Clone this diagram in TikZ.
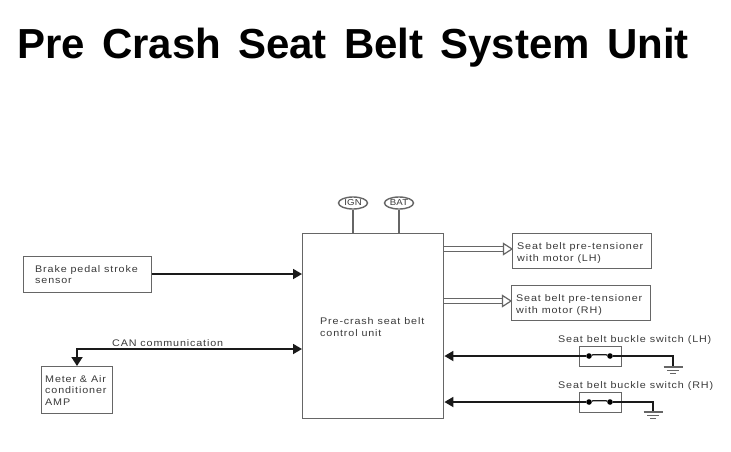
\documentclass[tikz,border=0pt]{standalone}
\usepackage{fontspec}
\setmainfont{Liberation Sans}
\newfontfamily\labfont[LetterSpace=9,FakeStretch=1.12]{Liberation Sans}
\newfontfamily\ovalfont[LetterSpace=2,FakeStretch=1.12]{Liberation Sans}
\newfontfamily\titlefont[WordSpace=1.47]{Liberation Sans}
\usetikzlibrary{arrows.meta,shapes.geometric,calc}
\definecolor{boxgray}{HTML}{666666}
\definecolor{txt}{HTML}{3A3A3A}
\definecolor{wire}{HTML}{1A1A1A}
\tikzset{
  x=1pt,y=-1pt,
  box/.style={draw=boxgray,line width=1.4pt,fill=white,inner sep=0pt,anchor=north west},
  lab/.style={text=txt,font=\labfont\fontsize{9.6}{11.4}\selectfont,align=left,inner sep=0pt,anchor=west},
  wireline/.style={draw=wire,line width=1.8pt},
  wirearrow/.style={wireline,-{Triangle[length=9pt,width=10pt]}},
  feed/.style={draw=boxgray,line width=1.5pt},
  hollow/.style={draw=boxgray,line width=1.2pt,double=white,double distance=3.4pt},
  oval/.style={ellipse,draw=boxgray,line width=1.4pt,inner sep=0pt,minimum width=29pt,minimum height=12pt,text=txt,font=\ovalfont\fontsize{8.6}{9}\selectfont},
  contact/.style={circle,fill=black,inner sep=0pt,minimum size=5.6pt},
  gnd/.style={draw=boxgray,line width=1.1pt}
}
\newcommand{\hollowtip}[1]{\draw[draw=boxgray,line width=1.2pt,fill=white] ($(#1)+(-8.5,-5.5)$) -- (#1) -- ($(#1)+(-8.5,5.5)$) -- cycle;}
\newcommand{\groundsym}[1]{\draw[gnd] ($(#1)+(-9.5,0)$) -- ($(#1)+(9.5,0)$) ($(#1)+(-6,3.4)$) -- ($(#1)+(6,3.4)$) ($(#1)+(-3,6.6)$) -- ($(#1)+(3,6.6)$);}
\begin{document}
\begin{tikzpicture}
\useasboundingbox (0,0) rectangle (731,451);
\node[anchor=base west,inner sep=0pt,font=\titlefont\bfseries\fontsize{42}{50}\selectfont,text=black] (title) at (17,58) {Pre Crash Seat Belt System Unit};

\node[box,minimum width=141pt,minimum height=185pt] (main) at (302,233) {};
\node[lab] (mainlab) at (320,327) {Pre-crash seat belt\\control unit};

\node[box,minimum width=128pt,minimum height=36pt] (brake) at (23,256) {};
\node[lab] (brakelab) at (35,274.5) {Brake pedal stroke\\sensor};
\node[box,minimum width=71pt,minimum height=47pt] (meter) at (41,366) {};
\node[lab] (meterlab) at (45,390.5) {Meter \& Air\\conditioner\\AMP};
\node[box,minimum width=139pt,minimum height=35pt] (pl) at (512,233) {};
\node[lab] (pllab) at (517,253) {Seat belt pre-tensioner\\with motor (LH)};
\node[box,minimum width=139pt,minimum height=35pt] (pr) at (511,285) {};
\node[lab] (prlab) at (516,305) {Seat belt pre-tensioner\\with motor (RH)};

\node[oval] (ign) at (353,203) {\raisebox{-.7pt}{IGN}};
\node[oval] (bat) at (399,203) {\raisebox{-.7pt}{BAT}};
\draw[feed] (ign) -- (ign |- main.north);
\draw[feed] (bat) -- (bat |- main.north);

\coordinate (ay) at (0,274);
\draw[wirearrow] (brake.east |- ay) -- (main.west |- ay);

\coordinate (cy) at (77,349);
\node[lab] (canlab) at (112,343.5) {CAN communication};
\draw[wireline,{Triangle[length=9pt,width=11pt]}-{Triangle[length=9pt,width=10pt]}] (cy |- meter.north) -- (cy) -- (main.west |- cy);

\coordinate (hl) at (0,249);
\coordinate (hr) at (0,301);
\draw[hollow] (main.east |- hl) -- ($(pl.west |- hl)+(-7,0)$);
\draw[hollow] (main.east |- hr) -- ($(pr.west |- hr)+(-7,0)$);
\coordinate (tl) at (pl.west |- hl);
\coordinate (tr) at (pr.west |- hr);
\hollowtip{tl}
\hollowtip{tr}

\node[box,minimum width=42pt,minimum height=20pt] (sl) at (579,346) {};
\node[box,minimum width=42pt,minimum height=20pt] (sr) at (579,392) {};
\node[lab] (sllab) at (558,340) {Seat belt buckle switch (LH)};
\node[lab] (srlab) at (558,386) {Seat belt buckle switch (RH)};
\node[contact] (sl1) at (589,356) {};
\node[contact] (sl2) at (610,356) {};
\node[contact] (sr1) at (589,402) {};
\node[contact] (sr2) at (610,402) {};
\draw[line width=1.3pt,draw=wire] (sl1) -- ++(4,-1.2) -- ($(sl2)+(-4,-1.2)$) -- (sl2);
\draw[line width=1.3pt,draw=wire] (sr1) -- ++(4,-1.2) -- ($(sr2)+(-4,-1.2)$) -- (sr2);

\coordinate (gl) at (673,367);
\coordinate (gr) at (653,412);
\draw[wirearrow] (sl1) -- (sl1 -| main.east);
\draw[wirearrow] (sr1) -- (sr1 -| main.east);
\draw[wireline] (sl2) -- (sl2 -| gl) -- (gl);
\draw[wireline] (sr2) -- (sr2 -| gr) -- (gr);
\groundsym{gl}
\groundsym{gr}
\end{tikzpicture}
\end{document}
